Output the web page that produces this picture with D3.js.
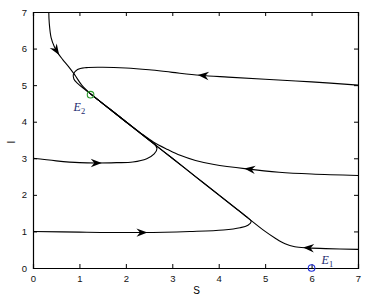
<!DOCTYPE html>
<html>
<head>
<meta charset="utf-8">
<script src="https://cdn.jsdelivr.net/npm/d3@7"></script>
<style>
  body { margin: 0; background: #fff; }
  svg { display: block; font-family: Arial, "Liberation Sans", sans-serif; }
  .tick text { font-size: 9.5px; fill: #111; }
  .traj { fill: none; stroke: #000; stroke-width: 1.1; }
</style>
</head>
<body>
<div id="chart"></div>
<script>
// tick values
const xTicks = [0, 1, 2, 3, 4, 5, 6, 7];
const yTicks = [0, 1, 2, 3, 4, 5, 6, 7];

// trajectories, [S, I]
const trajTop = [[0.34, 7], [0.35, 6.7], [0.39, 6.3], [0.46, 6.05], [0.54, 5.87], [0.64, 5.7], [0.77, 5.5], [0.9, 5.28], [1.05, 5.0], [1.24, 4.76]];
const trajUpperRight = [[7, 5.0], [6, 5.09], [5, 5.16], [4.2, 5.22], [3.6, 5.27], [3, 5.35], [2.5, 5.42], [2, 5.47], [1.5, 5.49], [1.15, 5.48], [0.96, 5.43], [0.87, 5.3], [0.88, 5.17], [0.96, 5.05], [1.1, 4.9], [1.24, 4.76]];
const trajMidRight = [[7, 2.53], [6, 2.57], [5.3, 2.62], [4.6, 2.71], [3.9, 2.83], [3.5, 2.94], [3.17, 3.08], [2.9, 3.24], [2.6, 3.44], [2.3, 3.71], [2.0, 4.0], [1.6, 4.4], [1.24, 4.76]];
const trajLeft3 = [[0, 3.0], [0.5, 2.93], [1.0, 2.88], [1.37, 2.87], [1.8, 2.88], [2.15, 2.9], [2.45, 2.99], [2.61, 3.12], [2.67, 3.27], [2.6, 3.41], [2.4, 3.6], [2.0, 4.0], [1.6, 4.4], [1.24, 4.76]];
const trajLeft1 = [[0, 1.0], [1, 0.98], [2.37, 0.97], [3.38, 1.0], [4.1, 1.04], [4.46, 1.1], [4.63, 1.17], [4.7, 1.27], [4.63, 1.37], [4.4, 1.6], [4, 2], [3.5, 2.5], [3, 3], [2.5, 3.5], [2, 4], [1.6, 4.4], [1.24, 4.76]];
const trajLowRight = [[7, 0.51], [6.3, 0.53], [5.92, 0.55], [5.64, 0.58], [5.43, 0.66], [5.21, 0.82], [5.0, 1.0], [4.5, 1.5], [4, 2], [3.5, 2.5], [3, 3], [2.5, 3.5], [2, 4], [1.6, 4.4], [1.24, 4.76]];

const trajectories = [trajTop, trajUpperRight, trajMidRight, trajLeft3, trajLeft1, trajLowRight];
// where each arrow tip sits, [S, I]
const arrowTips = [[0.57, 5.83], [3.55, 5.28], [4.55, 2.72], [1.48, 2.87], [2.47, 0.97], [5.82, 0.56]];

// equilibria
const equilibria = [
  {name: "E", sub: "2", s: 1.24, i: 4.74, color: "#2a9a2a", dx: -17, dy: 16},
  {name: "E", sub: "1", s: 6.0, i: 0.0, color: "#1f2fd8", dx: 10, dy: -4}
];

const width = 375, height = 298;
const margin = {top: 12, right: 17, bottom: 30, left: 33};

const svg = d3.select("#chart").append("svg")
  .attr("width", width).attr("height", height);

const x = d3.scaleLinear().domain([0, 7]).range([margin.left, width - margin.right]);
const y = d3.scaleLinear().domain([0, 7]).range([height - margin.bottom, margin.top]);

// axes, ticks pointing inward on all four sides
svg.append("g")
  .attr("transform", `translate(0,${y(0)})`)
  .call(d3.axisBottom(x).tickValues(xTicks).tickSize(-4).tickPadding(7).tickFormat(d3.format("d")));
svg.append("g")
  .attr("transform", `translate(${x(0)},0)`)
  .call(d3.axisLeft(y).tickValues(yTicks).tickSize(-4).tickPadding(6).tickFormat(d3.format("d")));
svg.append("g")
  .attr("transform", `translate(0,${y(7)})`)
  .call(d3.axisTop(x).tickValues(xTicks).tickSize(-4).tickFormat(""));
svg.append("g")
  .attr("transform", `translate(${x(7)},0)`)
  .call(d3.axisRight(y).tickValues(yTicks).tickSize(-4).tickFormat(""));

svg.selectAll(".domain").attr("stroke", "#000").attr("stroke-width", 1.2);
svg.selectAll(".tick line").attr("stroke", "#000");

// axis labels
svg.append("text")
  .attr("x", (x(0) + x(7)) / 2 + 1).attr("y", height - 4)
  .attr("text-anchor", "middle").attr("font-size", 10).text("S");
svg.append("text")
  .attr("transform", `translate(15,${(y(0) + y(7)) / 2 + 2}) rotate(-90)`)
  .attr("text-anchor", "middle").attr("font-size", 10).text("I");

const line = d3.line()
  .x(d => x(d[0])).y(d => y(d[1]))
  .curve(d3.curveCatmullRom.alpha(0.5));

const paths = svg.append("g").selectAll("path")
  .data(trajectories)
  .join("path")
  .attr("class", "traj")
  .attr("d", line);

// arrowheads: find the tip on its path and take the tangent there
const arrowShape = "M0,0 L-11,-4.2 L-7.5,0 L-11,4.2 Z";
paths.each(function(d, k) {
  const node = this;
  const len = node.getTotalLength();
  const tx = x(arrowTips[k][0]), ty = y(arrowTips[k][1]);
  let best = 0, bestDist = Infinity;
  for (let l = 0; l <= len; l += 0.5) {
    const p = node.getPointAtLength(l);
    const dist = (p.x - tx) ** 2 + (p.y - ty) ** 2;
    if (dist < bestDist) { bestDist = dist; best = l; }
  }
  const p = node.getPointAtLength(best);
  const q = node.getPointAtLength(Math.max(0, best - 5));
  const angle = Math.atan2(p.y - q.y, p.x - q.x) * 180 / Math.PI;
  svg.append("path")
    .attr("d", arrowShape)
    .attr("fill", "#000")
    .attr("transform", `translate(${p.x},${p.y}) rotate(${angle})`);
});

// equilibrium points and labels
const eq = svg.append("g").selectAll("g")
  .data(equilibria)
  .join("g");

eq.append("circle")
  .attr("cx", d => x(d.s)).attr("cy", d => y(d.i))
  .attr("r", 3.3)
  .attr("fill", "none")
  .attr("stroke", d => d.color)
  .attr("stroke-width", 1.1);

const lab = eq.append("text")
  .attr("x", d => x(d.s) + d.dx).attr("y", d => y(d.i) + d.dy)
  .attr("font-family", "'Liberation Serif', 'Times New Roman', serif")
  .attr("font-size", 12)
  .attr("fill", "#1c2a6e");
lab.append("tspan").attr("font-style", "italic").text(d => d.name);
lab.append("tspan").attr("font-size", 8.5).attr("dy", 3).text(d => d.sub);
</script>
</body>
</html>
